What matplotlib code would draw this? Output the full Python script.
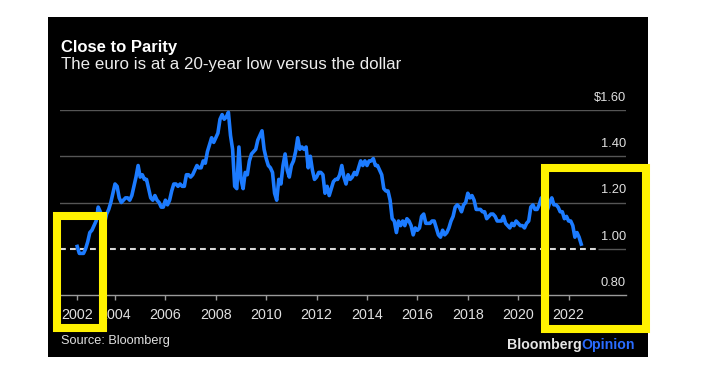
import numpy as np
import matplotlib.pyplot as plt
from matplotlib.patches import Rectangle

plt.rcParams['font.family'] = ['Liberation Sans', 'DejaVu Sans']

# monthly EUR/USD, July 2002 .. July 2022
start_year = 2002.5
eur_usd = [
    1.01, 0.98, 0.98, 0.98, 1.00, 1.03,                                  # 2002 (Jul-Dec)
    1.07, 1.08, 1.10, 1.12, 1.18, 1.16, 1.13, 1.11, 1.15, 1.17, 1.20, 1.24,  # 2003
    1.28, 1.27, 1.22, 1.20, 1.21, 1.22, 1.22, 1.21, 1.23, 1.27, 1.31, 1.36,  # 2004
    1.31, 1.32, 1.30, 1.30, 1.26, 1.22, 1.21, 1.23, 1.21, 1.20, 1.18, 1.18,  # 2005
    1.21, 1.19, 1.21, 1.25, 1.28, 1.28, 1.27, 1.28, 1.27, 1.27, 1.32, 1.32,  # 2006
    1.31, 1.32, 1.34, 1.36, 1.35, 1.35, 1.38, 1.37, 1.42, 1.45, 1.48, 1.46,  # 2007
    1.48, 1.50, 1.56, 1.58, 1.56, 1.57, 1.59, 1.49, 1.43, 1.27, 1.26, 1.44,  # 2008
    1.30, 1.26, 1.33, 1.32, 1.38, 1.41, 1.42, 1.43, 1.47, 1.49, 1.51, 1.43,  # 2009
    1.39, 1.36, 1.35, 1.33, 1.24, 1.21, 1.30, 1.28, 1.36, 1.41, 1.34, 1.31,  # 2010
    1.36, 1.38, 1.42, 1.48, 1.43, 1.44, 1.43, 1.44, 1.35, 1.40, 1.34, 1.30,  # 2011
    1.31, 1.33, 1.33, 1.32, 1.24, 1.27, 1.23, 1.26, 1.29, 1.30, 1.30, 1.32,  # 2012
    1.36, 1.31, 1.28, 1.32, 1.30, 1.31, 1.33, 1.32, 1.35, 1.38, 1.36, 1.38,  # 2013
    1.36, 1.38, 1.38, 1.39, 1.36, 1.36, 1.34, 1.32, 1.26, 1.25, 1.25, 1.21,  # 2014
    1.13, 1.12, 1.07, 1.12, 1.10, 1.12, 1.10, 1.13, 1.12, 1.10, 1.06, 1.09,  # 2015
    1.08, 1.09, 1.14, 1.15, 1.11, 1.11, 1.11, 1.12, 1.12, 1.09, 1.06, 1.05,  # 2016
    1.08, 1.06, 1.07, 1.09, 1.12, 1.14, 1.18, 1.19, 1.18, 1.16, 1.19, 1.20,  # 2017
    1.24, 1.22, 1.23, 1.21, 1.17, 1.17, 1.17, 1.16, 1.16, 1.13, 1.14, 1.15,  # 2018
    1.15, 1.14, 1.12, 1.12, 1.12, 1.14, 1.11, 1.10, 1.09, 1.11, 1.10, 1.12,  # 2019
    1.11, 1.10, 1.10, 1.09, 1.11, 1.12, 1.18, 1.19, 1.17, 1.17, 1.19, 1.22,  # 2020
    1.21, 1.21, 1.17, 1.20, 1.22, 1.19, 1.19, 1.18, 1.16, 1.16, 1.13, 1.14,  # 2021
    1.12, 1.12, 1.10, 1.05, 1.07, 1.05, 1.02,                                # 2022 (Jan-Jul)
]
dates = start_year + np.arange(len(eur_usd)) / 12

x_ticks = [2002.5, 2004, 2006, 2008, 2010, 2012, 2014, 2016, 2018, 2020, 2022]
x_labels = ['2002', '2004', '2006', '2008', '2010', '2012', '2014', '2016', '2018', '2020', '2022']
y_ticks = [0.80, 1.00, 1.20, 1.40, 1.60]
y_labels = ['0.80', '1.00', '1.20', '1.40', '$1.60']
parity = 1.00

W, H = 724, 378


def fx(px):
    return px / W


def fy(py):
    return 1 - py / H


fig = plt.figure(figsize=(W / 100, H / 100), dpi=100)
fig.patch.set_facecolor('white')

# black panel
fig.add_artist(Rectangle((fx(48), fy(357)), 600 / W, 340 / H, transform=fig.transFigure,
                         facecolor='black', edgecolor='none', zorder=0))

ax = fig.add_axes([fx(60), fy(295), 566 / W, 185 / H])
ax.patch.set_alpha(0)
ax.set_xlim(2001.817, 2024.278)
ax.set_ylim(0.80, 1.60)

grid_c = '#555555'
for v in y_ticks[2:]:
    ax.axhline(v, color=grid_c, lw=1.0, zorder=1)
dash_end = 2023.17
ax.hlines(parity, dash_end, 2024.278, color=grid_c, lw=1.0, zorder=1)
ax.hlines(parity, 2001.817, dash_end, color='#d8d8d8', lw=1.5,
          linestyles=(0, (2.8, 2.0)), zorder=2)

ax.plot(dates, eur_usd, color='#1c7bff', lw=2.6, zorder=3, solid_joinstyle='round')

for sp in ['top', 'right', 'left']:
    ax.spines[sp].set_visible(False)
ax.spines['bottom'].set_color('#9a9a9a')
ax.spines['bottom'].set_linewidth(1.0)

ax.set_yticks([])
ax.set_xticks(x_ticks, x_labels)
ax.tick_params(axis='x', length=3.6, width=1.0, color='#9a9a9a', labelcolor='#e0e0e0',
               labelsize=10.3, pad=6.0)

for v, lab in zip(y_ticks, y_labels):
    ax.annotate(lab, xy=(1.0, v), xycoords=ax.get_yaxis_transform(),
                xytext=(0, 6.5), textcoords='offset points',
                ha='right', va='baseline', color='#e0e0e0', fontsize=9.3)

fig.text(fx(61), fy(51.7), 'Close to Parity', color='white', fontsize=12,
         fontweight='bold', va='baseline')
fig.text(fx(61), fy(69.3), 'The euro is at a 20-year low versus the dollar', color='#ececec',
         fontsize=12.2, va='baseline')
fig.text(fx(61), fy(344), 'Source: Bloomberg', color='#e0e0e0', fontsize=9.2, va='baseline')

op = fig.text(fx(635), fy(349), 'Opinion', color='#2a6cff', fontsize=10.2,
              fontweight='bold', ha='right', va='baseline')
renderer = fig.canvas.get_renderer()
x0 = op.get_window_extent(renderer).x0
fig.text(x0 / fig.bbox.width, fy(349), 'Bloomberg', color='#e6e6e6', fontsize=10.2,
         fontweight='bold', ha='right', va='baseline')

# yellow highlight boxes
for (x1, y1, x2, y2) in [(56.7, 215.7, 102.7, 327.7), (545, 168, 646, 329)]:
    fig.add_artist(Rectangle((fx(x1), fy(y2)), (x2 - x1) / W, (y2 - y1) / H,
                             transform=fig.transFigure, facecolor='none',
                             edgecolor='#fff200', lw=5.8, zorder=10))

fig.savefig('out.png', dpi=100)
